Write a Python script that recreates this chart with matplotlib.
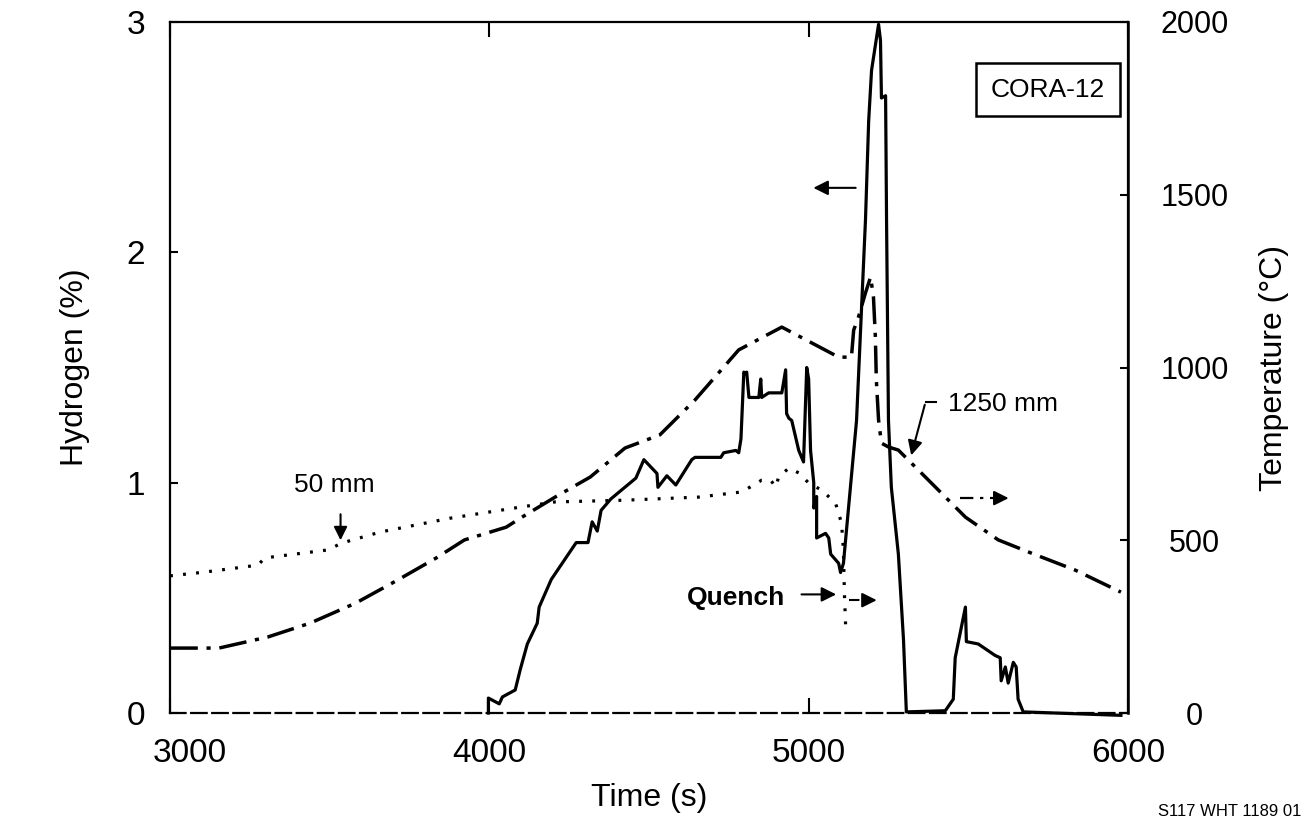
import matplotlib
matplotlib.use('Agg')
import matplotlib.pyplot as plt
from matplotlib.transforms import ScaledTranslation

plt.rcParams['font.family'] = ['Liberation Sans', 'DejaVu Sans']

# ---- data ----
# Hydrogen concentration (%), left axis
t_h2 = [3997, 3997, 4031, 4041, 4081, 4097, 4119, 4150, 4156, 4194, 4272, 4309, 4322,
        4338, 4350, 4381, 4459, 4484, 4525, 4528, 4556, 4584, 4634, 4644, 4725, 4734,
        4772, 4781, 4788, 4797, 4803, 4806, 4813, 4844, 4850, 4853, 4875, 4916, 4928,
        4931, 4938, 4947, 4969, 4984, 4994, 5000, 5006, 5016, 5016, 5025, 5025, 5053,
        5063, 5069, 5094, 5100, 5109, 5150, 5178, 5188, 5197, 5219, 5225, 5228, 5241,
        5244, 5250, 5259, 5281, 5297, 5306, 5428, 5453, 5459, 5491, 5494, 5531, 5584,
        5600, 5603, 5616, 5625, 5641, 5650, 5656, 5672, 5978]
h2 = [0.0, 0.065, 0.04, 0.07, 0.10, 0.19, 0.30, 0.39, 0.46, 0.58, 0.74, 0.74, 0.83,
      0.79, 0.88, 0.93, 1.02, 1.10, 1.04, 0.98, 1.03, 0.99, 1.10, 1.11, 1.11, 1.13,
      1.14, 1.13, 1.19, 1.48, 1.47, 1.48, 1.37, 1.37, 1.45, 1.37, 1.39, 1.39, 1.49,
      1.30, 1.28, 1.27, 1.14, 1.09, 1.50, 1.45, 1.14, 1.00, 0.89, 0.94, 0.76, 0.78,
      0.76, 0.69, 0.65, 0.61, 0.65, 1.27, 2.14, 2.57, 2.79, 2.99, 2.92, 2.67, 2.68,
      2.14, 1.27, 0.98, 0.69, 0.32, 0.005, 0.01, 0.06, 0.24, 0.46, 0.31, 0.30, 0.25,
      0.24, 0.14, 0.20, 0.13, 0.22, 0.20, 0.06, 0.005, -0.01]

# Temperature at 1250 mm (deg C), right axis
t_T1250 = [3000, 3153, 3306, 3438, 3581, 3713, 3834, 3922, 4053, 4097, 4206, 4316,
           4425, 4534, 4644, 4781, 4916, 5094, 5134, 5141, 5156, 5178, 5194, 5203,
           5209, 5212, 5219, 5228, 5250, 5281, 5384, 5491, 5594, 5697, 5834, 5978]
T1250 = [188, 188, 220, 260, 318, 385, 449, 501, 538, 564, 625, 683,
         767, 805, 906, 1051, 1117, 1030, 1030, 1108, 1146, 1216, 1262, 1204,
         1088, 964, 848, 781, 770, 761, 666, 567, 501, 463, 414, 350]

# Temperature at 50 mm (deg C), right axis
t_T50 = [3000, 3109, 3275, 3297, 3494, 3538, 3659, 3878, 4097, 4206, 4425, 4656, 4791,
         4853, 4881, 4897, 4906, 4938, 4969, 5000, 5041, 5084, 5103, 5109, 5112, 5116]
T50 = [397, 408, 428, 449, 472, 492, 524, 564, 596, 611, 616, 625, 640,
       674, 674, 654, 683, 709, 695, 666, 645, 608, 550, 472, 347, 249]

x_ticks = [3000, 4000, 5000, 6000]
h_ticks = [0, 1, 2, 3]
T_ticks = [0, 500, 1000, 1500, 2000]

# ---- figure ----
fig = plt.figure(figsize=(13.07, 8.27), dpi=100)
ax = fig.add_axes([0.1301, 0.1378, 0.8630 - 0.1301, 0.9734 - 0.1378])
ax2 = ax.twinx()

DASHDOT = (0, (8, 2.5, 1.2, 2.5))

ax.plot(t_h2, h2, color='black', lw=2.3, solid_joinstyle='round', clip_on=False)
ax2.plot(t_T1250, T1250, color='black', lw=2.5, linestyle=DASHDOT)
ax2.plot(t_T50, T50, color='black', lw=2.3, linestyle=(0, (0.9, 3.2)))

ax.set_xlim(3000, 6000)
ax.set_ylim(0, 3)
ax2.set_ylim(0, 2000)
ax.set_xticks(x_ticks)
ax.set_yticks(h_ticks)
ax2.set_yticks(T_ticks)

ax.tick_params(axis='x', direction='in', length=11, width=1.5, top=True,
               labelsize=24, pad=18)
ax.tick_params(axis='y', direction='in', length=6, width=1.5, labelsize=24, pad=18)
ax2.tick_params(axis='y', direction='in', length=6, width=1.5, labelsize=22, pad=48)
for lbl in ax2.get_yticklabels():
    lbl.set_ha('center')

# shift the "3000" label a little to the right as in the scan
t0 = ax.xaxis.get_major_ticks()[0]
t0.label1.set_transform(t0.label1.get_transform() +
                        ScaledTranslation(20 / 100, 0, fig.dpi_scale_trans))

for s in ['top', 'left', 'right']:
    ax.spines[s].set_linewidth(1.6)
ax.spines['bottom'].set_linewidth(1.6)
ax.spines['bottom'].set_linestyle((0, (7, 2.5)))
for s in ['top', 'left', 'bottom']:
    ax2.spines[s].set_visible(False)
ax2.spines['right'].set_linewidth(1.8)

ax.set_xlabel('Time (s)', fontsize=23, labelpad=10)
ax.set_ylabel('Hydrogen (%)', fontsize=23, labelpad=26)
ax2.set_ylabel('Temperature (°C)', fontsize=23, labelpad=22)

# ---- annotations ----
ax.text(5750, 2.705, 'CORA-12', ha='center', va='center', fontsize=19,
        bbox=dict(boxstyle='square,pad=0.55', fc='white', ec='black', lw=1.8))

# left-pointing arrow (hydrogen curve -> left axis)
ax.annotate('', xy=(5006, 2.28), xytext=(5156, 2.28),
            arrowprops=dict(arrowstyle='-|>', lw=1.5, color='black', mutation_scale=22))

# 1250 mm label and leader
ax.text(5438, 1.34, '1250 mm', ha='left', va='center', fontsize=19)
ax.plot([5366, 5400], [1.35, 1.35], color='black', lw=1.5)
ax.annotate('', xy=(5319, 1.107), xytext=(5366, 1.35),
            arrowprops=dict(arrowstyle='-|>', lw=1.5, color='black', mutation_scale=22))

# right-pointing dash-dot arrow (temperature -> right axis)
ax.plot([5475, 5595], [0.933, 0.933], color='black', lw=1.6, linestyle=(0, (6, 3, 1.5, 3)))
ax.annotate('', xy=(5635, 0.933), xytext=(5595, 0.933),
            arrowprops=dict(arrowstyle='-|>', lw=1.5, color='black', mutation_scale=22))

# 50 mm label and arrow
ax.text(3516, 0.94, '50 mm', ha='center', va='bottom', fontsize=19)
ax.annotate('', xy=(3534, 0.738), xytext=(3534, 0.875),
            arrowprops=dict(arrowstyle='-|>', lw=1.5, color='black', mutation_scale=20))

# Quench
ax.text(4925, 0.50, 'Quench', ha='right', va='center', fontsize=19, fontweight='bold')
ax.annotate('', xy=(5095, 0.515), xytext=(4969, 0.515),
            arrowprops=dict(arrowstyle='-|>', lw=1.5, color='black', mutation_scale=22))
ax.plot([5125, 5185], [0.49, 0.49], color='black', lw=1.5, linestyle=(0, (5, 3, 1.5, 3)))
ax.annotate('', xy=(5222, 0.49), xytext=(5185, 0.49),
            arrowprops=dict(arrowstyle='-|>', lw=1.5, color='black', mutation_scale=22))

fig.text(1230 / 1307, 1 - 812 / 827, 'S117 WHT 1189 01', ha='center', va='center',
         fontsize=12)

fig.savefig('out.png', dpi=100)
